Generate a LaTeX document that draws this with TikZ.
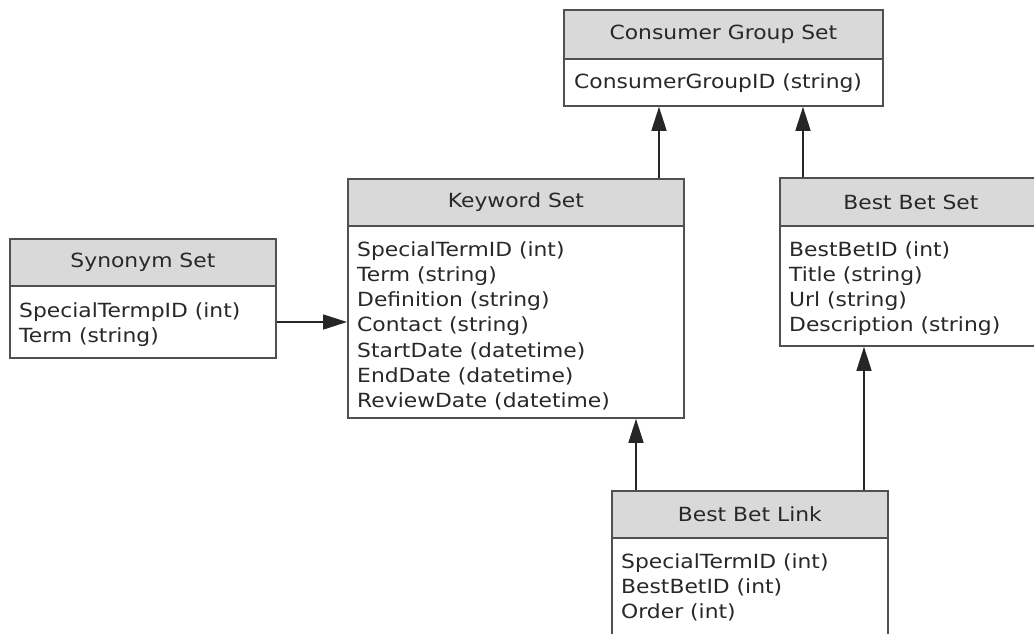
\documentclass[tikz,border=0pt]{standalone}
\usepackage{fontspec}
\setmainfont[FakeStretch=1.12]{DejaVu Sans}
\usetikzlibrary{arrows.meta}
\definecolor{edge}{RGB}{80,80,80}
\definecolor{hdrfill}{RGB}{217,217,217}
\definecolor{txt}{RGB}{40,40,40}
\tikzset{
  hdr/.style={draw=edge, line width=1.8pt, fill=hdrfill, anchor=north west, inner sep=0pt,
              text=txt, font=\fontsize{19.5}{25.3}\selectfont},
  bodybox/.style={draw=edge, line width=1.8pt, fill=white, anchor=north west, inner sep=0pt},
  fields/.style={anchor=north west, inner sep=0pt, align=left, text=txt,
                 font=\fontsize{19.5}{25.3}\selectfont},
  conn/.style={draw=black!85, line width=1.6pt, -{Triangle[length=24pt,width=15pt]}}
}
\begin{document}
\begin{tikzpicture}[x=1pt,y=-1pt]
\useasboundingbox (0,0) rectangle (1034,633);
\clip (0,0) rectangle (1034,633);
% Consumer Group Set
\node[bodybox, minimum width=319pt, minimum height=47pt] (cgb) at (563,58) {};
\node[hdr, minimum width=319pt, minimum height=49pt] (cgh) at (563,9) {Consumer Group Set};
\node[fields] (cgf) at (574,73) {ConsumerGroupID (string)};
% Keyword Set
\node[bodybox, minimum width=336pt, minimum height=192pt] (ksb) at (347,225) {};
\node[hdr, minimum width=336pt, minimum height=47pt] (ksh) at (347,178) {Keyword Set};
\node[fields] (ksf) at (357,241) {SpecialTermID (int)\\Term (string)\\Definition (string)\\Contact (string)\\StartDate (datetime)\\EndDate (datetime)\\ReviewDate (datetime)};
% Synonym Set
\node[bodybox, minimum width=266pt, minimum height=72pt] (ssb) at (9,285) {};
\node[hdr, minimum width=266pt, minimum height=47pt] (ssh) at (9,238) {Synonym Set};
\node[fields] (ssf) at (19,302) {SpecialTermpID (int)\\Term (string)};
% Best Bet Set
\node[bodybox, minimum width=262pt, minimum height=120pt] (bbb) at (779,225) {};
\node[hdr, minimum width=262pt, minimum height=48pt] (bbh) at (779,177) {Best Bet Set};
\node[fields] (bbf) at (789,241) {BestBetID (int)\\Title (string)\\Url (string)\\Description (string)};
% Best Bet Link
\node[bodybox, minimum width=276pt, minimum height=120pt] (blb) at (611,537) {};
\node[hdr, minimum width=276pt, minimum height=47pt] (blh) at (611,490) {Best Bet Link};
\node[fields] (blf) at (621,553) {SpecialTermID (int)\\BestBetID (int)\\Order (int)};
% connectors
\draw[conn] (ksh.north -| 659,0) -- (cgb.south -| 659,0);
\draw[conn] (bbh.north -| 803,0) -- (cgb.south -| 803,0);
\draw[conn] (ssb.east |- 0,322) -- (ksb.west |- 0,322);
\draw[conn] (blh.north -| 636,0) -- (ksb.south -| 636,0);
\draw[conn] (blh.north -| 864,0) -- (bbb.south -| 864,0);
\end{tikzpicture}
\end{document}
